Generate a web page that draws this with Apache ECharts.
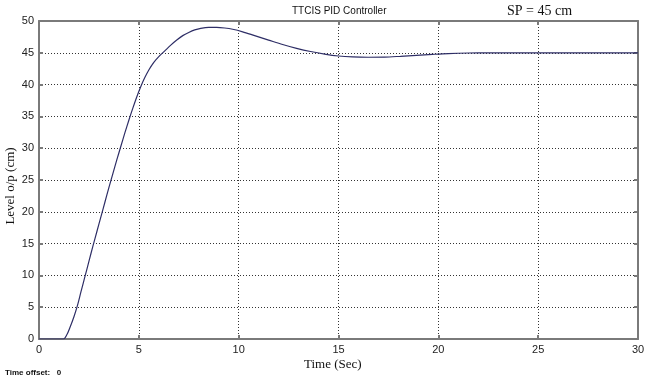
<!DOCTYPE html>
<html>
<head>
<meta charset="utf-8">
<script src="https://cdn.jsdelivr.net/npm/echarts@6/dist/echarts.min.js"></script>
<style>html,body{margin:0;padding:0;background:#fff;}#c{width:650px;height:379px;}</style>
</head>
<body>
<div id="c"></div>
<script>
var timeSec = [0, 0.6, 1.22, 1.4, 1.55, 1.75, 1.92, 2.1, 2.3, 2.5, 2.7, 2.9, 3.1, 3.3, 3.5, 3.7, 3.9, 4.1, 4.3, 4.5, 4.7, 4.9, 5.1, 5.3, 5.5, 5.75, 6.0, 6.3, 6.6, 6.9, 7.2, 7.5, 7.8, 8.1, 8.5, 8.9, 9.3, 9.7, 10.2, 10.8, 11.5, 12.2, 12.9, 13.6, 14.3, 15.0, 15.7, 16.5, 17.3, 18.1, 18.9, 19.7, 20.5, 21.5, 22.5, 25, 30];
var levelCm = [0, 0, 0, 0.7, 1.8, 3.5, 5.2, 7.4, 9.8, 12.2, 14.6, 16.9, 19.2, 21.5, 23.8, 26.0, 28.2, 30.3, 32.4, 34.4, 36.3, 38.1, 39.7, 41.1, 42.3, 43.5, 44.4, 45.3, 46.2, 47.0, 47.7, 48.2, 48.6, 48.85, 49.0, 49.0, 48.9, 48.7, 48.3, 47.7, 47.0, 46.3, 45.7, 45.2, 44.8, 44.5, 44.35, 44.3, 44.32, 44.45, 44.6, 44.75, 44.88, 44.97, 45.0, 45.0, 45.0];
var xTicks = [0, 5, 10, 15, 20, 25, 30];
var yTicks = [0, 5, 10, 15, 20, 25, 30, 35, 40, 45, 50];

var chart = echarts.init(document.getElementById('c'), null, {renderer: 'canvas'});
var data = timeSec.map(function (t, i) { return [t, levelCm[i]]; });
var axisCol = '#7a7a7a';
var gridLine = {show: true, lineStyle: {color: '#333', width: 1, type: [1, 2]}};
function xAx(pos, main) {
  return {
    type: 'value', position: pos, min: xTicks[0], max: xTicks[xTicks.length - 1], interval: 5,
    axisLine: {show: true, onZero: false, lineStyle: {color: axisCol, width: 2}},
    axisTick: {show: true, inside: true, length: 4, lineStyle: {color: axisCol, width: 2}},
    axisLabel: {show: main, color: '#222', fontFamily: 'Liberation Sans, Arial', fontSize: 11, margin: 5},
    splitLine: main ? gridLine : {show: false}
  };
}
function yAx(pos, main) {
  return {
    type: 'value', position: pos, min: yTicks[0], max: yTicks[yTicks.length - 1], interval: 5,
    axisLine: {show: true, onZero: false, lineStyle: {color: axisCol, width: 2}},
    axisTick: {show: true, inside: true, length: 4, lineStyle: {color: axisCol, width: 2}},
    axisLabel: {show: main, color: '#222', fontFamily: 'Liberation Sans, Arial', fontSize: 11, margin: 5},
    splitLine: main ? gridLine : {show: false}
  };
}
chart.setOption({
  animation: false,
  backgroundColor: '#fff',
  grid: {left: 39, right: 12, top: 21, bottom: 40, containLabel: false},
  xAxis: [xAx('bottom', true), xAx('top', false)],
  yAxis: [yAx('left', true), yAx('right', false)],
  series: [{
    type: 'line', data: data, showSymbol: false, smooth: 0.3,
    xAxisIndex: 0, yAxisIndex: 0,
    lineStyle: {color: '#2e2e66', width: 1.2}
  }],
  graphic: [
    {type: 'text', left: 292, top: 6, style: {text: 'TTCIS PID Controller', font: '10px "Liberation Sans", Arial', fill: '#111'}},
    {type: 'text', left: 507, top: 4, style: {text: 'SP = 45 cm', font: '14px "Liberation Serif", "Times New Roman"', fill: '#111'}},
    {type: 'text', left: 304, top: 358, style: {text: 'Time (Sec)', font: '13px "Liberation Serif", "Times New Roman"', fill: '#111'}},
    {type: 'text', x: 4, y: 186, rotation: Math.PI / 2, style: {text: 'Level o/p (cm)', font: '13px "Liberation Serif", "Times New Roman"', fill: '#111', align: 'center', verticalAlign: 'top'}},
    {type: 'text', left: 5, top: 369, style: {text: 'Time offset:   0', font: 'bold 8px "Liberation Sans", Arial', fill: '#111'}}
  ]
});
</script>
</body>
</html>
